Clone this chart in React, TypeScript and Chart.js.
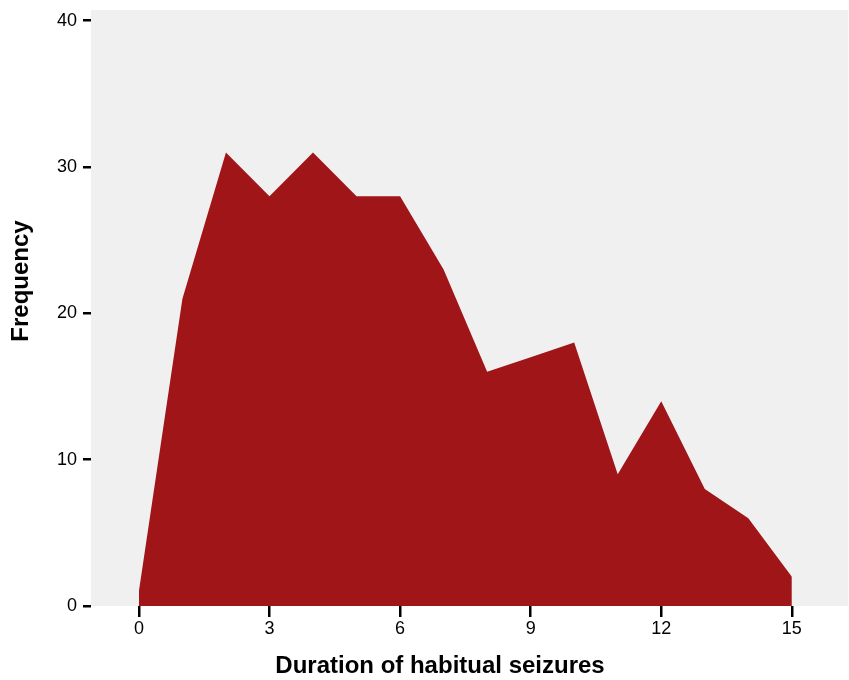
import React, { useEffect, useRef } from "react";
import { Chart, registerables } from "chart.js";

Chart.register(...registerables);

const durations = [0, 1, 2, 3, 4, 5, 6, 7, 8, 9, 10, 11, 12, 13, 14, 15];
const frequencies = [1, 21, 31, 28, 31, 28, 28, 23, 16, 17, 18, 9, 14, 8, 6, 2];
const xTickValues = [0, 3, 6, 9, 12, 15];
const yTickValues = [0, 10, 20, 30, 40];
const xTitle = "Duration of habitual seizures";
const yTitle = "Frequency";

const FONT = "'Liberation Sans', Arial, sans-serif";

const plotBg = {
  id: "plotBg",
  beforeDraw(chart: any) {
    const { ctx, chartArea } = chart;
    if (!chartArea) return;
    ctx.save();
    ctx.fillStyle = "#f0f0f0";
    ctx.fillRect(chartArea.left, chartArea.top, chartArea.right - chartArea.left, chartArea.bottom - chartArea.top);
    ctx.restore();
  },
};

const axisTitles = {
  id: "axisTitles",
  afterDraw(chart: any) {
    const { ctx } = chart;
    ctx.save();
    ctx.fillStyle = "#000";
    ctx.font = `bold 24px ${FONT}`;
    ctx.textAlign = "center";
    ctx.textBaseline = "middle";
    ctx.fillText(xTitle, 440, 666);
    ctx.translate(21, 281);
    ctx.rotate(-Math.PI / 2);
    ctx.fillText(yTitle, 0, 0);
    ctx.restore();
  },
};

export default function App() {
  const ref = useRef<HTMLCanvasElement | null>(null);

  useEffect(() => {
    if (!ref.current) return;
    const chart = new Chart(ref.current, {
      type: "line",
      data: {
        datasets: [
          {
            data: durations.map((d, i) => ({ x: d, y: frequencies[i] })),
            backgroundColor: "#a01518",
            borderColor: "#a01518",
            borderWidth: 0,
            pointRadius: 0,
            fill: "origin",
            tension: 0,
          },
        ],
      },
      options: {
        responsive: false,
        animation: false,
        layout: { padding: { top: 10, right: 1, left: 0, bottom: 0 } },
        plugins: { legend: { display: false }, tooltip: { enabled: false } },
        scales: {
          x: {
            type: "linear",
            min: -1.1,
            max: 16.29,
            afterBuildTicks: (scale: any) => {
              scale.ticks = xTickValues.map((value) => ({ value }));
            },
            afterFit: (scale: any) => {
              scale.height = 74;
              scale.paddingLeft = 0;
              scale.paddingRight = 0;
            },
            border: { display: false },
            grid: {
              drawOnChartArea: false,
              drawTicks: true,
              tickLength: 11,
              color: "#000",
              lineWidth: 2.5,
            },
            ticks: {
              color: "#000",
              font: { family: FONT, size: 18 },
              padding: 1,
              maxRotation: 0,
              autoSkip: false,
            },
          },
          y: {
            type: "linear",
            min: 0,
            max: 40.73,
            afterBuildTicks: (scale: any) => {
              scale.ticks = yTickValues.map((value) => ({ value }));
            },
            afterFit: (scale: any) => {
              scale.width = 91;
              scale.paddingTop = 0;
              scale.paddingBottom = 0;
            },
            border: { display: false },
            grid: {
              drawOnChartArea: false,
              drawTicks: true,
              tickLength: 8,
              color: "#000",
              lineWidth: 2.5,
            },
            ticks: {
              color: "#000",
              font: { family: FONT, size: 18 },
              padding: 6,
            },
          },
        },
      },
      plugins: [plotBg, axisTitles],
    } as any);
    return () => chart.destroy();
  }, []);

  return (
    <div style={{ position: "fixed", left: 0, top: 0, width: 849, height: 680, background: "#fff" }}>
      <canvas ref={ref} width={849} height={680} style={{ display: "block", width: 849, height: 680 }} />
    </div>
  );
}
